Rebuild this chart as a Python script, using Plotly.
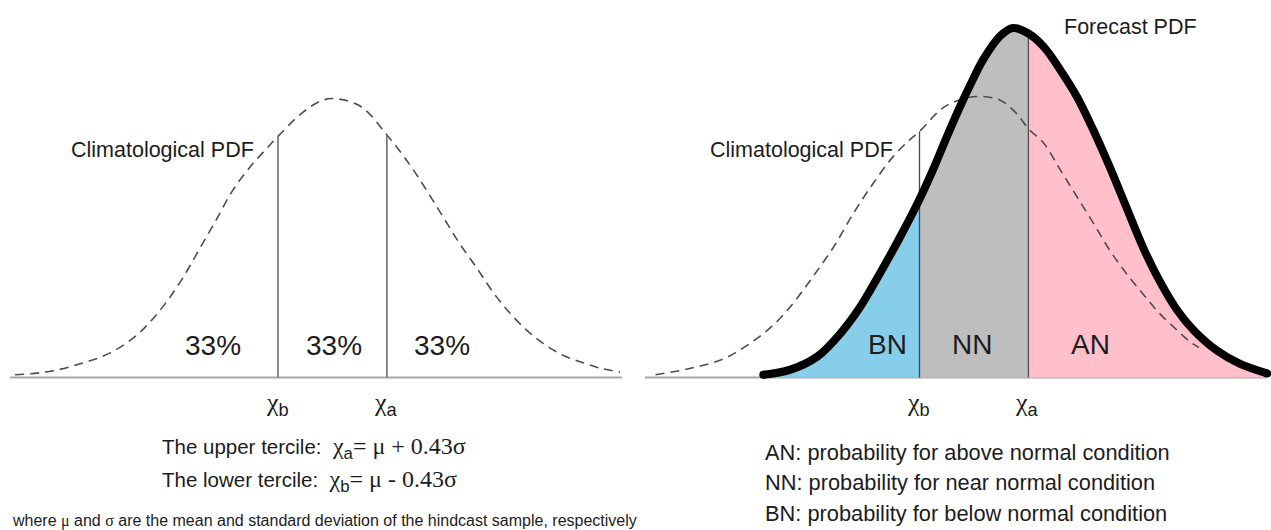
import plotly.graph_objects as go

# ---------------- data ----------------
# x in climatological standard-deviation units (0 = climatological mean),
# y = probability density (climatological peak ~0.40)
clim_left_x = [-2.89, -2.57, -2.27, -2.03, -1.82, -1.66, -1.51, -1.36, -1.21, -1.06, -0.91,
               -0.75, -0.63, -0.50, -0.30, -0.12, 0.00, 0.25, 0.49, 0.70, 0.85, 1.00, 1.15,
               1.31, 1.46, 1.61, 1.76, 1.91, 2.09, 2.28, 2.44, 2.61]
clim_left_y = [0.004, 0.009, 0.021, 0.035, 0.056, 0.080, 0.109, 0.144, 0.185, 0.226, 0.268,
               0.302, 0.323, 0.345, 0.376, 0.395, 0.399, 0.388, 0.347, 0.304, 0.268, 0.230,
               0.192, 0.156, 0.121, 0.092, 0.068, 0.049, 0.032, 0.021, 0.013, 0.008]
terciles_left = [-0.50, 0.49]          # chi_b, chi_a

clim_right_x = [-2.92, -2.61, -2.30, -2.06, -1.85, -1.67, -1.49, -1.30, -1.12, -0.94, -0.76,
                -0.61, -0.52, -0.33, -0.21, 0.00, 0.21, 0.36, 0.47, 0.61, 0.76, 0.91, 1.06,
                1.21, 1.36, 1.51, 1.66, 1.82, 1.94, 2.02]
clim_right_y = [0.004, 0.013, 0.027, 0.049, 0.075, 0.106, 0.144, 0.187, 0.235, 0.278, 0.316,
                0.340, 0.352, 0.383, 0.394, 0.402, 0.397, 0.378, 0.356, 0.335, 0.297, 0.259,
                0.221, 0.182, 0.149, 0.120, 0.092, 0.068, 0.051, 0.043]

fcst_x = [-1.94, -1.70, -1.45, -1.24, -1.06, -0.88, -0.70, -0.52, -0.39, -0.27, -0.15, -0.06,
          0.06, 0.21, 0.33, 0.47, 0.61, 0.76, 0.91, 1.06, 1.21, 1.36, 1.51, 1.66, 1.82, 1.97,
          2.18, 2.39, 2.64]
fcst_y = [0.004, 0.011, 0.030, 0.063, 0.101, 0.149, 0.200, 0.255, 0.300, 0.345, 0.388, 0.418,
          0.455, 0.488, 0.500, 0.492, 0.473, 0.440, 0.402, 0.354, 0.301, 0.244, 0.187, 0.139,
          0.097, 0.068, 0.039, 0.020, 0.006]
terciles_right = [-0.52, 0.47]         # chi_b, chi_a

left_pct_labels = ["33%", "33%", "33%"]
categories = ["BN", "NN", "AN"]
category_colors = ["#87CEEB", "#BEBEBE", "#FFC0CB"]
legend_lines = ["AN: probability for above normal condition",
                "NN: probability for near normal condition",
                "BN: probability for below normal condition"]

# ---------------- layout constants ----------------
W, H = 1271, 530
PX_PER_X = 110.0
PX_PER_Y = 1 / 0.00143
BASE_PX = 377.6
LEFT_MU_PX, RIGHT_MU_PX = 333.0, 976.7
SPLIT_PX = 640.0


def px(x):
    return x / W


def py(y):
    return 1 - y / H


SANS = "Liberation Sans, Arial, sans-serif"
SERIF = "Liberation Serif, Times New Roman, serif"
TXT = "#1c1c1c"
DASH = dict(color="#4d4d4d", width=1.6, dash="9px,6px", shape="spline")

fig = go.Figure()

# ---- left panel ----
fig.add_trace(go.Scatter(x=clim_left_x, y=clim_left_y, mode="lines", xaxis="x", yaxis="y",
                         line=DASH, hoverinfo="skip"))
for t in terciles_left:
    h = clim_left_y[clim_left_x.index(t)]
    fig.add_trace(go.Scatter(x=[t, t], y=[0, h], mode="lines", xaxis="x", yaxis="y",
                             line=dict(color="#666666", width=1.5), hoverinfo="skip"))

# ---- right panel ----
ib = fcst_x.index(terciles_right[0])
ia = fcst_x.index(terciles_right[1])
segments = [(0, ib + 1), (ib, ia + 1), (ia, len(fcst_x))]
for (s, e), col in zip(segments, category_colors):
    fig.add_trace(go.Scatter(x=fcst_x[s:e], y=fcst_y[s:e], mode="lines", xaxis="x2", yaxis="y2",
                             fill="tozeroy", fillcolor=col,
                             line=dict(width=0, shape="spline", color=col), hoverinfo="skip"))

fig.add_trace(go.Scatter(x=clim_right_x, y=clim_right_y, mode="lines", xaxis="x2", yaxis="y2",
                         line=DASH, hoverinfo="skip"))
hb = clim_right_y[clim_right_x.index(terciles_right[0])]
fig.add_trace(go.Scatter(x=[terciles_right[0]] * 2, y=[0, hb], mode="lines", xaxis="x2", yaxis="y2",
                         line=dict(color="#3c4a55", width=1.3), hoverinfo="skip"))
ha = fcst_y[ia]
fig.add_trace(go.Scatter(x=[terciles_right[1]] * 2, y=[0, ha], mode="lines", xaxis="x2", yaxis="y2",
                         line=dict(color="#5a4a4c", width=1.3), hoverinfo="skip"))
fig.add_trace(go.Scatter(x=fcst_x, y=fcst_y, mode="lines", xaxis="x2", yaxis="y2",
                         line=dict(color="black", width=8, shape="spline"), hoverinfo="skip"))
fig.add_trace(go.Scatter(x=[fcst_x[0], fcst_x[-1]], y=[fcst_y[0], fcst_y[-1]], mode="markers",
                         xaxis="x2", yaxis="y2", marker=dict(color="black", size=8),
                         hoverinfo="skip"))

# ---- baselines ----
fig.add_shape(type="line", xref="x domain", yref="y", x0=10 / SPLIT_PX, x1=622 / SPLIT_PX,
              y0=0, y1=0, line=dict(color="#a8a8a8", width=2), layer="below")
fig.add_shape(type="line", xref="x2 domain", yref="y2", x0=5 / (W - SPLIT_PX),
              x1=(1266 - SPLIT_PX) / (W - SPLIT_PX), y0=0, y1=0,
              line=dict(color="#a8a8a8", width=2), layer="below")

# ---- annotations ----
ann = []


def add_text(text, x, y, size, xanchor="center", family=SANS, color=TXT):
    ann.append(dict(text=text, x=px(x), y=py(y), xref="paper", yref="paper", showarrow=False,
                    xanchor=xanchor, yanchor="middle", font=dict(family=family, size=size, color=color)))


add_text("Climatological PDF", 256, 150, 21.5, xanchor="right")
add_text("Climatological PDF", 895, 150, 21.5, xanchor="right")
add_text("Forecast PDF", 1062, 27, 21.5, xanchor="left")

for lbl, xp in zip(left_pct_labels, [213, 334, 442]):
    add_text(lbl, xp, 345, 28)
for lbl, xp in zip(categories, [887, 972, 1090]):
    add_text(lbl, xp, 344, 28)

sub_span = "<sub><span style='font-family:Liberation Sans, Arial, sans-serif'>"
for lbl, t, mu in [("b", terciles_left[0], LEFT_MU_PX), ("a", terciles_left[1], LEFT_MU_PX),
                   ("b", terciles_right[0], RIGHT_MU_PX), ("a", terciles_right[1], RIGHT_MU_PX)]:
    xp = mu + t * PX_PER_X - 1
    add_text("χ" + sub_span + lbl + "</span></sub>", xp, 404, 26, family=SERIF)

serif_span = "<span style='font-family:Liberation Serif, Times New Roman, serif;font-size:24px'>"
add_text("The upper tercile:  " + serif_span + "χ" + sub_span + "a</span></sub>= μ + 0.43σ</span>",
         160, 448, 20.5, xanchor="left")
add_text("The lower tercile:  " + serif_span + "χ" + sub_span + "b</span></sub>= μ - 0.43σ</span>",
         160, 481, 20.5, xanchor="left")
small_serif = "<span style='font-family:Liberation Serif, Times New Roman, serif'>"
add_text("where " + small_serif + "μ</span> and " + small_serif + "σ</span> are the mean and standard "
         "deviation of the hindcast sample, respectively", 10, 521, 16, xanchor="left")

for i, line in enumerate(legend_lines):
    add_text(line, 763, 452 + i * 30.5, 21.8, xanchor="left")

y_top = BASE_PX / PX_PER_Y
y_bot = -(H - BASE_PX) / PX_PER_Y
axis_common = dict(visible=False, showgrid=False, zeroline=False, fixedrange=True)

fig.update_layout(
    width=W, height=H,
    margin=dict(l=0, r=0, t=0, b=0),
    paper_bgcolor="white", plot_bgcolor="white",
    showlegend=False,
    xaxis=dict(domain=[0, SPLIT_PX / W],
               range=[(0 - LEFT_MU_PX) / PX_PER_X, (SPLIT_PX - LEFT_MU_PX) / PX_PER_X], **axis_common),
    yaxis=dict(domain=[0, 1], range=[y_bot, y_top], **axis_common),
    xaxis2=dict(domain=[SPLIT_PX / W, 1],
                range=[(SPLIT_PX - RIGHT_MU_PX) / PX_PER_X, (W - RIGHT_MU_PX) / PX_PER_X], **axis_common),
    yaxis2=dict(domain=[0, 1], range=[y_bot, y_top], anchor="x2", **axis_common),
    annotations=ann,
)

fig.write_html("out.html", config={"displayModeBar": False},
               post_script="document.body.style.margin='0px';document.body.style.overflow='hidden';")
